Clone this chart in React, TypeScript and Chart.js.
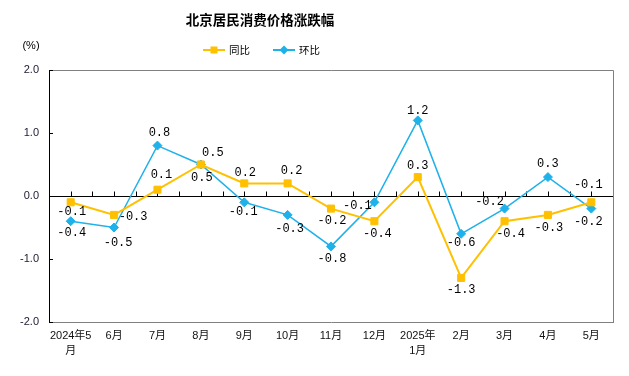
import React, { useEffect, useRef } from "react";
import { Chart, registerables } from "chart.js";

Chart.register(...registerables);

const chartTitle = "北京居民消费价格涨跌幅";
const unitLabel = "(%)";
const categories: (string | string[])[] = [
  ["2024年5", "月"], "6月", "7月", "8月", "9月", "10月", "11月", "12月",
  ["2025年", "1月"], "2月", "3月", "4月", "5月",
];
const seriesNames = ["同比", "环比"];
const yoyValues = [-0.1, -0.3, 0.1, 0.5, 0.2, 0.2, -0.2, -0.4, 0.3, -1.3, -0.4, -0.3, -0.1];
const momValues = [-0.4, -0.5, 0.8, 0.5, -0.1, -0.3, -0.8, -0.1, 1.2, -0.6, -0.2, 0.3, -0.2];
const yTickValues = [-2, -1, 0, 1, 2];

// label placement offsets (style only): [dx, dy] in px from the point
const yoyLabelOffsets = [[1, 10], [19, 2], [4, -15], [12, -12], [1, -11], [4, -13], [1, 12], [3, 13], [0, -11], [0, 12], [6, 13], [1, 13], [-3, -17]];
const momLabelOffsets = [[1, 12], [4, 15], [2, -13], [1, 13], [-1, 10], [2, 14], [1, 12], [-17, 4], [0, -10], [0, 9], [-15, -7], [0, -13], [-3, 13]];

const YELLOW = "#FFC000";
const BLUE = "#1EB1EA";
const CJK = '"Noto Sans CJK SC", sans-serif';
const AXIS_FONT = '"Liberation Sans", "Noto Sans CJK SC", sans-serif';

const decorPlugin = {
  id: "decor",
  beforeDatasetsDraw(chart: any) {
    const { ctx, chartArea } = chart;
    const { left, right, top, bottom } = chartArea;
    const y = chart.scales.y;
    const x = chart.scales.x;
    ctx.save();
    // gray frame top & right
    ctx.strokeStyle = "#808080";
    ctx.lineWidth = 1;
    ctx.beginPath();
    ctx.moveTo(left, top + 0.5);
    ctx.lineTo(right + 0.5, top + 0.5);
    ctx.lineTo(right + 0.5, bottom);
    ctx.stroke();
    // y inward ticks
    ctx.strokeStyle = "#000";
    ctx.beginPath();
    yTickValues.forEach((v) => {
      const py = Math.round(y.getPixelForValue(v)) + 0.5;
      ctx.moveTo(left, py);
      ctx.lineTo(left + 4, py);
    });
    ctx.stroke();
    // zero line with ticks
    const zy = Math.round(y.getPixelForValue(0)) + 0.5;
    ctx.beginPath();
    ctx.moveTo(left, zy);
    ctx.lineTo(right, zy);
    const n = categories.length;
    const w = (right - left) / n;
    for (let k = 1; k < 2 * n; k++) {
      const px = Math.round(left + (w * k) / 2) + 0.5;
      ctx.moveTo(px, zy);
      ctx.lineTo(px, zy - 5);
    }
    ctx.stroke();
    ctx.restore();
  },
  afterDatasetsDraw(chart: any) {
    const { ctx } = chart;
    ctx.save();
    ctx.font = '12px "Liberation Mono", "DejaVu Sans Mono", monospace';
    ctx.fillStyle = "#000";
    ctx.textAlign = "center";
    ctx.textBaseline = "middle";
    const sets = [
      { vals: yoyValues, offs: yoyLabelOffsets, idx: 0 },
      { vals: momValues, offs: momLabelOffsets, idx: 1 },
    ];
    sets.forEach((s) => {
      const meta = chart.getDatasetMeta(s.idx);
      meta.data.forEach((pt: any, i: number) => {
        const [dx, dy] = s.offs[i];
        ctx.fillText(s.vals[i].toFixed(1), pt.x + dx, pt.y + dy);
      });
    });
    ctx.restore();
  },
  afterDraw(chart: any) {
    const { ctx } = chart;
    ctx.save();
    ctx.fillStyle = "#000";
    ctx.textBaseline = "middle";
    ctx.textAlign = "center";
    ctx.font = `bold 13.5px ${CJK}`;
    ctx.fillText(chartTitle, 260, 20);
    ctx.font = `11px ${AXIS_FONT}`;
    ctx.fillText(unitLabel, 31, 46);
    // legend
    const items = [
      { name: seriesNames[0], color: YELLOW, x0: 203, style: "rect" },
      { name: seriesNames[1], color: BLUE, x0: 273, style: "rectRot" },
    ];
    const ly = 50;
    items.forEach((it) => {
      ctx.strokeStyle = it.color;
      ctx.lineWidth = 2;
      ctx.beginPath();
      ctx.moveTo(it.x0, ly);
      ctx.lineTo(it.x0 + 22, ly);
      ctx.stroke();
      ctx.fillStyle = it.color;
      const cx = it.x0 + 11;
      ctx.beginPath();
      if (it.style === "rect") {
        ctx.rect(cx - 3.5, ly - 3.5, 7, 7);
      } else {
        ctx.moveTo(cx, ly - 4.5);
        ctx.lineTo(cx + 4.5, ly);
        ctx.lineTo(cx, ly + 4.5);
        ctx.lineTo(cx - 4.5, ly);
        ctx.closePath();
      }
      ctx.fill();
      ctx.fillStyle = "#000";
      ctx.textAlign = "left";
      ctx.font = `10.5px ${CJK}`;
      ctx.fillText(it.name, it.x0 + 26, ly);
    });
    ctx.restore();
  },
};

export default function App() {
  const ref = useRef<HTMLCanvasElement | null>(null);
  useEffect(() => {
    if (!ref.current) return;
    const chart = new Chart(ref.current, {
      type: "line",
      data: {
        labels: categories as any,
        datasets: [
          {
            label: seriesNames[0],
            data: yoyValues,
            borderColor: YELLOW,
            backgroundColor: YELLOW,
            borderWidth: 2,
            pointStyle: "rect",
            pointRadius: 5,
            pointBorderWidth: 1,
            pointBackgroundColor: YELLOW,
            pointBorderColor: YELLOW,
            tension: 0,
          },
          {
            label: seriesNames[1],
            data: momValues,
            borderColor: BLUE,
            backgroundColor: BLUE,
            borderWidth: 1.5,
            pointStyle: "rectRot",
            pointRadius: 4.5,
            pointBorderWidth: 1,
            pointBackgroundColor: BLUE,
            pointBorderColor: BLUE,
            tension: 0,
          },
        ],
      },
      options: {
        responsive: false,
        animation: false,
        layout: { padding: { top: 70, right: 16, left: 0, bottom: 0 } },
        plugins: {
          legend: { display: false },
          title: { display: false },
          tooltip: { enabled: false },
        },
        scales: {
          x: {
            type: "category",
            offset: true,
            grid: { display: false, drawTicks: false },
            border: { display: true, color: "#808080", width: 1 },
            ticks: {
              autoSkip: false,
              maxRotation: 0,
              minRotation: 0,
              padding: 7,
              color: "#111",
              font: { family: AXIS_FONT, size: 11, lineHeight: 1.35 },
            },
            afterFit: (s: any) => { s.height = 54; },
          },
          y: {
            min: -2,
            max: 2,
            afterBuildTicks: (s: any) => { s.ticks = yTickValues.map((v) => ({ value: v })); },
            grid: { display: false, drawTicks: false },
            border: { display: true, color: "#000", width: 1 },
            ticks: {
              padding: 10,
              color: "#1a1a33",
              font: { family: AXIS_FONT, size: 11 },
              callback: (v: any) => Number(v).toFixed(1),
            },
            afterFit: (s: any) => { s.width = 49; },
          },
        },
      },
      plugins: [decorPlugin],
    });
    return () => chart.destroy();
  }, []);
  return (
    <div style={{ position: "fixed", left: 0, top: 0, width: 629, height: 376, background: "#fff" }}>
      <canvas ref={ref} width={629} height={376} style={{ width: 629, height: 376 }} />
    </div>
  );
}
